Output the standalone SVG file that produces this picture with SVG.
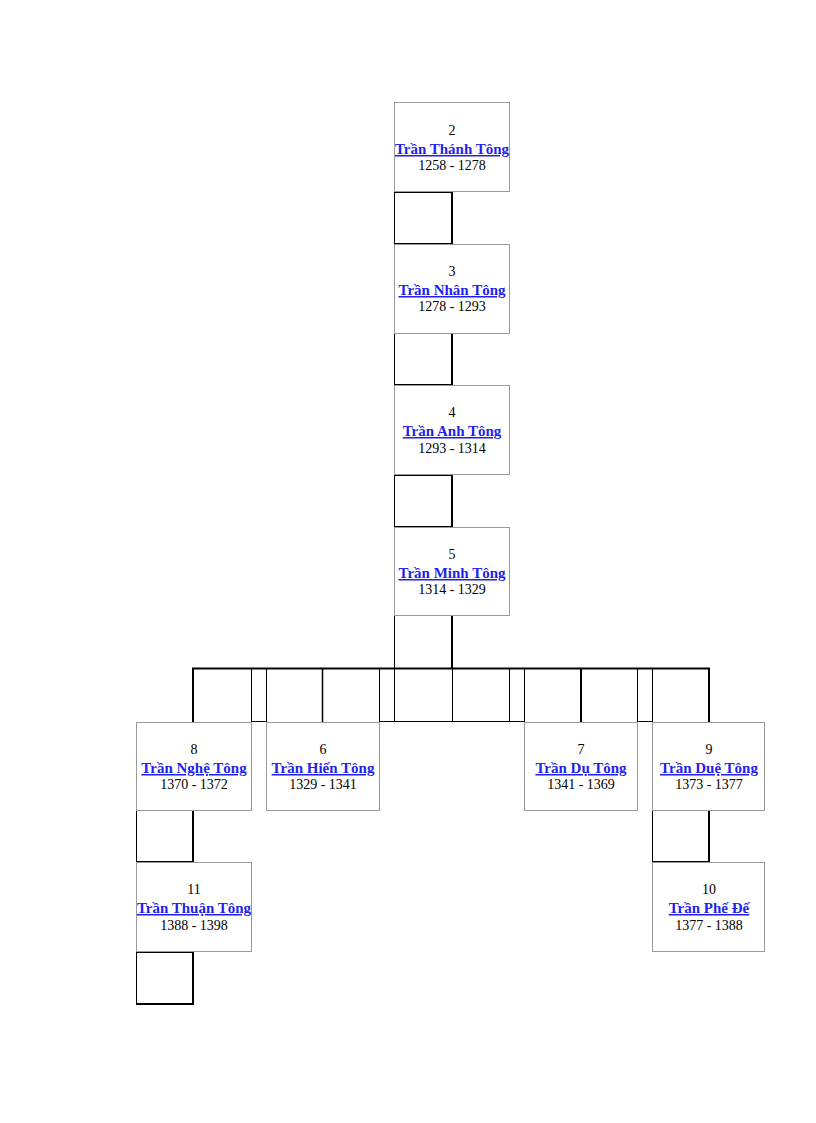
<svg xmlns="http://www.w3.org/2000/svg" width="816" height="1123" viewBox="0 0 816 1123">
<style>
.box{fill:#fff;stroke:#9a9a9a;stroke-width:1}
.cell{fill:none;stroke:#000;stroke-width:1}
.thick{fill:none;stroke:#000;stroke-width:2}
.mid{fill:none;stroke:#000;stroke-width:1.5}
text{font-family:"Liberation Serif","Times New Roman",serif;text-anchor:middle}
.num{font-size:14px;fill:#000}
.name{font-size:15px;font-weight:bold;fill:#1f1fee;text-decoration:underline}
.yrs{font-size:14px;fill:#000}
</style>
<rect width="816" height="1123" fill="#fff"/>
<g id="connectors">
  <rect class="cell" x="394.5" y="192.5" width="57.5" height="51"/>
  <line class="thick" x1="452" y1="192" x2="452" y2="244"/>
  <rect class="cell" x="394.5" y="333.5" width="57.5" height="51"/>
  <line class="thick" x1="452" y1="333" x2="452" y2="385"/>
  <rect class="cell" x="394.5" y="475.5" width="57.5" height="51"/>
  <line class="thick" x1="452" y1="475" x2="452" y2="527"/>
  <rect class="cell" x="394.5" y="615.5" width="57.5" height="53"/>
  <line class="thick" x1="452" y1="615" x2="452" y2="668"/>
  <line class="thick" x1="192" y1="668.5" x2="710" y2="668.5"/>
  <g class="cell">
    <line x1="251.5" y1="668" x2="251.5" y2="721.5"/>
    <line x1="266.5" y1="668" x2="266.5" y2="721.5"/>
    <line x1="379.5" y1="668" x2="379.5" y2="721.5"/>
    <line x1="394.5" y1="668" x2="394.5" y2="721.5"/>
    <line x1="452.5" y1="668" x2="452.5" y2="721.5"/>
    <line x1="509.5" y1="668" x2="509.5" y2="721.5"/>
    <line x1="524.5" y1="668" x2="524.5" y2="721.5"/>
    <line x1="637.5" y1="668" x2="637.5" y2="721.5"/>
    <line x1="652.5" y1="668" x2="652.5" y2="721.5"/>
    <line x1="251" y1="721.5" x2="267" y2="721.5"/>
    <line x1="379" y1="721.5" x2="525" y2="721.5"/>
    <line x1="637" y1="721.5" x2="653" y2="721.5"/>
  </g>
  <line class="thick" x1="193" y1="668" x2="193" y2="722"/>
  <line class="mid" x1="322.5" y1="668" x2="322.5" y2="722"/>
  <line class="thick" x1="581" y1="668" x2="581" y2="722"/>
  <line class="thick" x1="709" y1="668" x2="709" y2="722"/>
  <rect class="cell" x="136.5" y="810.5" width="56.5" height="51"/>
  <line class="thick" x1="193" y1="810" x2="193" y2="862"/>
  <rect class="cell" x="652.5" y="810.5" width="56.5" height="51"/>
  <line class="thick" x1="709" y1="810" x2="709" y2="862"/>
  <rect class="cell" x="136.5" y="952.5" width="56.5" height="51"/>
  <line class="thick" x1="193" y1="952" x2="193" y2="1005"/>
  <line class="thick" x1="136" y1="1004" x2="194" y2="1004"/>
</g>
<g id="n2">
  <rect class="box" x="394.5" y="102.5" width="115" height="89"/>
  <text class="num" x="452" y="135">2</text>
  <text class="name" x="452" y="154">Trần Thánh Tông</text>
  <text class="yrs" x="452" y="170">1258 - 1278</text>
</g>
<g id="n3">
  <rect class="box" x="394.5" y="244.5" width="115" height="89"/>
  <text class="num" x="452" y="276">3</text>
  <text class="name" x="452" y="295">Trần Nhân Tông</text>
  <text class="yrs" x="452" y="311">1278 - 1293</text>
</g>
<g id="n4">
  <rect class="box" x="394.5" y="385.5" width="115" height="89"/>
  <text class="num" x="452" y="417">4</text>
  <text class="name" x="452" y="436">Trần Anh Tông</text>
  <text class="yrs" x="452" y="453">1293 - 1314</text>
</g>
<g id="n5">
  <rect class="box" x="394.5" y="527.5" width="115" height="88"/>
  <text class="num" x="452" y="559">5</text>
  <text class="name" x="452" y="578">Trần Minh Tông</text>
  <text class="yrs" x="452" y="594">1314 - 1329</text>
</g>
<g id="n8">
  <rect class="box" x="136.5" y="722.5" width="115" height="88"/>
  <text class="num" x="194" y="754">8</text>
  <text class="name" x="194" y="773">Trần Nghệ Tông</text>
  <text class="yrs" x="194" y="789">1370 - 1372</text>
</g>
<g id="n6">
  <rect class="box" x="266.5" y="722.5" width="113" height="88"/>
  <text class="num" x="323" y="754">6</text>
  <text class="name" x="323" y="773">Trần Hiến Tông</text>
  <text class="yrs" x="323" y="789">1329 - 1341</text>
</g>
<g id="n7">
  <rect class="box" x="524.5" y="722.5" width="113" height="88"/>
  <text class="num" x="581" y="754">7</text>
  <text class="name" x="581" y="773">Trần Dụ Tông</text>
  <text class="yrs" x="581" y="789">1341 - 1369</text>
</g>
<g id="n9">
  <rect class="box" x="652.5" y="722.5" width="112" height="88"/>
  <text class="num" x="709" y="754">9</text>
  <text class="name" x="709" y="773">Trần Duệ Tông</text>
  <text class="yrs" x="709" y="789">1373 - 1377</text>
</g>
<g id="n11">
  <rect class="box" x="136.5" y="862.5" width="115" height="89"/>
  <text class="num" x="194" y="894">11</text>
  <text class="name" x="194" y="913">Trần Thuận Tông</text>
  <text class="yrs" x="194" y="930">1388 - 1398</text>
</g>
<g id="n10">
  <rect class="box" x="652.5" y="862.5" width="112" height="89"/>
  <text class="num" x="709" y="894">10</text>
  <text class="name" x="709" y="913">Trần Phế Đế</text>
  <text class="yrs" x="709" y="930">1377 - 1388</text>
</g>
</svg>
